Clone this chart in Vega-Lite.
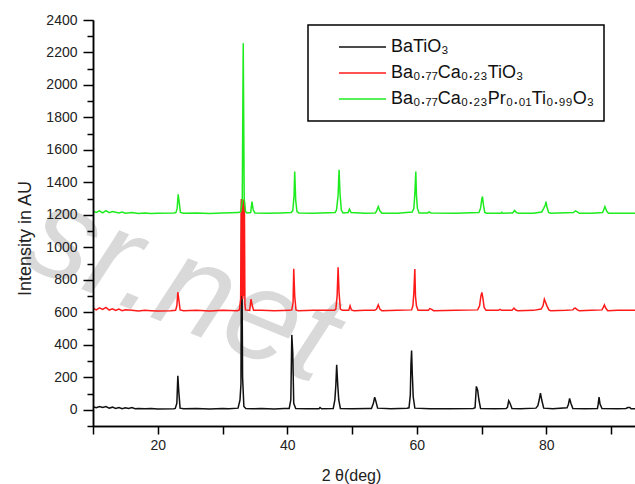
{
  "$schema": "https://vega.github.io/schema/vega-lite/v6.json",
  "width": 542,
  "height": 406,
  "autosize": {"type": "none"},
  "padding": {"left": 93, "top": 20, "right": 0, "bottom": 58},
  "background": "white",
  "config": {
    "view": {"stroke": null},
    "font": "Liberation Sans",
    "axis": {
      "grid": false,
      "domainColor": "#000000",
      "domainWidth": 1.5,
      "tickColor": "#000000",
      "tickWidth": 1.5,
      "labelFont": "Liberation Sans",
      "labelFontSize": 14,
      "labelColor": "#222222",
      "titleFont": "Liberation Sans",
      "titleFontSize": 18,
      "titleFontWeight": "normal",
      "titleColor": "#222222"
    },
    "legend": {
      "strokeColor": "#000000",
      "strokeWidth": 1.5
    }
  },
  "resolve": {"axis": {"x": "independent", "y": "independent"}},
  "datasets": {
    "mark_text": [
      {"label": "sr.net", "theta": 23.75, "counts": 751}
    ],
    "batio3": [
      {"theta": 10, "counts": 18}, {"theta": 10.5, "counts": 12}, {"theta": 11, "counts": 20}, {"theta": 11.5, "counts": 14},
      {"theta": 12, "counts": 20}, {"theta": 12.5, "counts": 10}, {"theta": 13, "counts": 16}, {"theta": 13.5, "counts": 8},
      {"theta": 14, "counts": 14}, {"theta": 14.5, "counts": 6}, {"theta": 15, "counts": 12}, {"theta": 15.5, "counts": 8},
      {"theta": 16, "counts": 14}, {"theta": 16.5, "counts": 6}, {"theta": 17, "counts": 8}, {"theta": 18, "counts": 6},
      {"theta": 19, "counts": 8}, {"theta": 20, "counts": 5}, {"theta": 22.5, "counts": 6},
      {"theta": 22.7, "counts": 8}, {"theta": 22.95, "counts": 40}, {"theta": 23.1, "counts": 209}, {"theta": 23.25, "counts": 110}, {"theta": 23.45, "counts": 10},
      {"theta": 24, "counts": 6}, {"theta": 26, "counts": 7}, {"theta": 28, "counts": 5}, {"theta": 30, "counts": 8}, {"theta": 31, "counts": 6},
      {"theta": 32.4, "counts": 10}, {"theta": 32.7, "counts": 60}, {"theta": 32.85, "counts": 160}, {"theta": 32.95, "counts": 1280}, {"theta": 33.1, "counts": 200}, {"theta": 33.3, "counts": 20}, {"theta": 33.6, "counts": 8},
      {"theta": 34.5, "counts": 6}, {"theta": 36, "counts": 8}, {"theta": 38, "counts": 5}, {"theta": 39.5, "counts": 8},
      {"theta": 40.3, "counts": 8}, {"theta": 40.55, "counts": 60}, {"theta": 40.7, "counts": 461}, {"theta": 40.85, "counts": 350}, {"theta": 41.0, "counts": 40}, {"theta": 41.3, "counts": 8},
      {"theta": 43, "counts": 6}, {"theta": 44.9, "counts": 6}, {"theta": 45.06, "counts": 14}, {"theta": 45.3, "counts": 6},
      {"theta": 47.1, "counts": 8}, {"theta": 47.35, "counts": 60}, {"theta": 47.5, "counts": 150}, {"theta": 47.63, "counts": 277}, {"theta": 47.8, "counts": 150}, {"theta": 47.95, "counts": 60}, {"theta": 48.2, "counts": 8},
      {"theta": 50, "counts": 6}, {"theta": 52.5, "counts": 8},
      {"theta": 53.0, "counts": 8}, {"theta": 53.3, "counts": 40}, {"theta": 53.5, "counts": 78}, {"theta": 53.7, "counts": 50}, {"theta": 53.95, "counts": 10},
      {"theta": 56, "counts": 6}, {"theta": 58.5, "counts": 10},
      {"theta": 58.8, "counts": 12}, {"theta": 59.0, "counts": 90}, {"theta": 59.1, "counts": 280}, {"theta": 59.2, "counts": 365}, {"theta": 59.3, "counts": 230}, {"theta": 59.45, "counts": 80}, {"theta": 59.7, "counts": 10},
      {"theta": 62, "counts": 6}, {"theta": 65, "counts": 6}, {"theta": 68.7, "counts": 8},
      {"theta": 69.0, "counts": 12}, {"theta": 69.2, "counts": 144}, {"theta": 69.4, "counts": 120}, {"theta": 69.6, "counts": 60}, {"theta": 69.85, "counts": 8},
      {"theta": 72, "counts": 6}, {"theta": 73.8, "counts": 8},
      {"theta": 74.0, "counts": 15}, {"theta": 74.2, "counts": 55}, {"theta": 74.4, "counts": 40}, {"theta": 74.7, "counts": 8},
      {"theta": 76, "counts": 6}, {"theta": 78.4, "counts": 10},
      {"theta": 78.7, "counts": 25}, {"theta": 78.9, "counts": 60}, {"theta": 79.1, "counts": 102}, {"theta": 79.3, "counts": 60}, {"theta": 79.6, "counts": 10},
      {"theta": 81, "counts": 6}, {"theta": 83.2, "counts": 12},
      {"theta": 83.4, "counts": 30}, {"theta": 83.6, "counts": 70}, {"theta": 83.8, "counts": 40}, {"theta": 84.1, "counts": 8},
      {"theta": 86, "counts": 6}, {"theta": 87.9, "counts": 8},
      {"theta": 88.0, "counts": 30}, {"theta": 88.15, "counts": 78}, {"theta": 88.3, "counts": 35}, {"theta": 88.6, "counts": 8},
      {"theta": 91, "counts": 6}, {"theta": 92.3, "counts": 8}, {"theta": 92.6, "counts": 14}, {"theta": 92.9, "counts": 14}, {"theta": 93.1, "counts": 6}, {"theta": 93.7, "counts": 6}
    ],
    "bcto": [
      {"theta": 10, "counts": 625}, {"theta": 10.5, "counts": 615}, {"theta": 11, "counts": 628}, {"theta": 11.5, "counts": 618},
      {"theta": 12, "counts": 630}, {"theta": 12.5, "counts": 614}, {"theta": 13, "counts": 622}, {"theta": 13.5, "counts": 612},
      {"theta": 14, "counts": 620}, {"theta": 14.5, "counts": 610}, {"theta": 15, "counts": 616}, {"theta": 16, "counts": 612},
      {"theta": 17, "counts": 608}, {"theta": 18, "counts": 612}, {"theta": 19, "counts": 610}, {"theta": 20, "counts": 608}, {"theta": 22, "counts": 610},
      {"theta": 22.75, "counts": 612}, {"theta": 22.95, "counts": 640}, {"theta": 23.1, "counts": 724}, {"theta": 23.25, "counts": 680}, {"theta": 23.45, "counts": 615},
      {"theta": 24, "counts": 610}, {"theta": 26, "counts": 612}, {"theta": 28, "counts": 608}, {"theta": 30, "counts": 612}, {"theta": 32.3, "counts": 610},
      {"theta": 32.6, "counts": 615}, {"theta": 32.8, "counts": 680}, {"theta": 32.9, "counts": 1298}, {"theta": 32.98, "counts": 700}, {"theta": 33.06, "counts": 1290},
      {"theta": 33.14, "counts": 680}, {"theta": 33.22, "counts": 1295}, {"theta": 33.3, "counts": 700}, {"theta": 33.38, "counts": 1280}, {"theta": 33.46, "counts": 650}, {"theta": 33.55, "counts": 615},
      {"theta": 34.2, "counts": 612}, {"theta": 34.4, "counts": 681}, {"theta": 34.6, "counts": 640}, {"theta": 34.8, "counts": 612},
      {"theta": 36, "counts": 612}, {"theta": 38, "counts": 610}, {"theta": 40.4, "counts": 612},
      {"theta": 40.7, "counts": 615}, {"theta": 40.9, "counts": 660}, {"theta": 41.0, "counts": 868}, {"theta": 41.15, "counts": 700}, {"theta": 41.35, "counts": 615}, {"theta": 41.7, "counts": 610},
      {"theta": 44, "counts": 612}, {"theta": 47.3, "counts": 612},
      {"theta": 47.5, "counts": 620}, {"theta": 47.7, "counts": 700}, {"theta": 47.85, "counts": 878}, {"theta": 48.0, "counts": 720}, {"theta": 48.2, "counts": 620}, {"theta": 48.5, "counts": 612},
      {"theta": 49.5, "counts": 612}, {"theta": 49.7, "counts": 640}, {"theta": 49.9, "counts": 615}, {"theta": 50.3, "counts": 610},
      {"theta": 52, "counts": 612}, {"theta": 53.5, "counts": 612},
      {"theta": 53.8, "counts": 620}, {"theta": 54.05, "counts": 646}, {"theta": 54.3, "counts": 620}, {"theta": 54.6, "counts": 610},
      {"theta": 57, "counts": 612}, {"theta": 59.2, "counts": 615},
      {"theta": 59.4, "counts": 640}, {"theta": 59.55, "counts": 720}, {"theta": 59.7, "counts": 866}, {"theta": 59.8, "counts": 700}, {"theta": 59.95, "counts": 640}, {"theta": 60.2, "counts": 612},
      {"theta": 61.8, "counts": 612}, {"theta": 62.0, "counts": 623}, {"theta": 62.3, "counts": 618}, {"theta": 62.6, "counts": 610},
      {"theta": 66, "counts": 612}, {"theta": 69.4, "counts": 615},
      {"theta": 69.7, "counts": 640}, {"theta": 69.9, "counts": 700}, {"theta": 70.05, "counts": 722}, {"theta": 70.2, "counts": 690}, {"theta": 70.4, "counts": 630}, {"theta": 70.7, "counts": 612},
      {"theta": 72.6, "counts": 612}, {"theta": 72.86, "counts": 618}, {"theta": 73.1, "counts": 612},
      {"theta": 74.7, "counts": 612}, {"theta": 75.0, "counts": 626}, {"theta": 75.3, "counts": 614}, {"theta": 75.6, "counts": 610},
      {"theta": 78, "counts": 612}, {"theta": 79.2, "counts": 620},
      {"theta": 79.5, "counts": 640}, {"theta": 79.7, "counts": 681}, {"theta": 79.9, "counts": 660}, {"theta": 80.1, "counts": 640}, {"theta": 80.4, "counts": 615}, {"theta": 80.7, "counts": 610},
      {"theta": 83, "counts": 612}, {"theta": 84.1, "counts": 615},
      {"theta": 84.3, "counts": 624}, {"theta": 84.5, "counts": 626}, {"theta": 84.8, "counts": 615}, {"theta": 85.1, "counts": 610},
      {"theta": 87, "counts": 612}, {"theta": 88.6, "counts": 615},
      {"theta": 88.8, "counts": 630}, {"theta": 88.97, "counts": 646}, {"theta": 89.2, "counts": 625}, {"theta": 89.5, "counts": 610},
      {"theta": 91, "counts": 612}, {"theta": 93.7, "counts": 612}
    ],
    "bcpto": [
      {"theta": 10, "counts": 1222}, {"theta": 10.5, "counts": 1215}, {"theta": 11, "counts": 1225}, {"theta": 11.5, "counts": 1212},
      {"theta": 12, "counts": 1226}, {"theta": 12.5, "counts": 1214}, {"theta": 13, "counts": 1220}, {"theta": 14, "counts": 1212},
      {"theta": 14.5, "counts": 1218}, {"theta": 15, "counts": 1210}, {"theta": 16, "counts": 1214}, {"theta": 17, "counts": 1208},
      {"theta": 18, "counts": 1212}, {"theta": 19, "counts": 1208}, {"theta": 20, "counts": 1210}, {"theta": 22.5, "counts": 1212},
      {"theta": 22.8, "counts": 1214}, {"theta": 23.0, "counts": 1240}, {"theta": 23.15, "counts": 1327}, {"theta": 23.3, "counts": 1280}, {"theta": 23.5, "counts": 1215},
      {"theta": 24, "counts": 1210}, {"theta": 26, "counts": 1212}, {"theta": 28, "counts": 1208}, {"theta": 30, "counts": 1212}, {"theta": 32.5, "counts": 1214},
      {"theta": 32.8, "counts": 1220}, {"theta": 33.05, "counts": 1280}, {"theta": 33.2, "counts": 2257}, {"theta": 33.35, "counts": 1300}, {"theta": 33.55, "counts": 1220}, {"theta": 33.8, "counts": 1212},
      {"theta": 34.35, "counts": 1214}, {"theta": 34.55, "counts": 1282}, {"theta": 34.75, "counts": 1230}, {"theta": 35.0, "counts": 1212},
      {"theta": 37, "counts": 1210}, {"theta": 39, "counts": 1212}, {"theta": 40.6, "counts": 1214},
      {"theta": 40.85, "counts": 1225}, {"theta": 41.05, "counts": 1320}, {"theta": 41.15, "counts": 1467}, {"theta": 41.3, "counts": 1290}, {"theta": 41.5, "counts": 1220}, {"theta": 41.8, "counts": 1212},
      {"theta": 44, "counts": 1210}, {"theta": 47.4, "counts": 1215},
      {"theta": 47.6, "counts": 1230}, {"theta": 47.85, "counts": 1320}, {"theta": 48.0, "counts": 1477}, {"theta": 48.15, "counts": 1330}, {"theta": 48.35, "counts": 1230}, {"theta": 48.6, "counts": 1212},
      {"theta": 49.4, "counts": 1214}, {"theta": 49.6, "counts": 1235}, {"theta": 49.85, "counts": 1214},
      {"theta": 52, "counts": 1210}, {"theta": 53.6, "counts": 1212},
      {"theta": 53.8, "counts": 1225}, {"theta": 54.05, "counts": 1251}, {"theta": 54.3, "counts": 1225}, {"theta": 54.6, "counts": 1210},
      {"theta": 57, "counts": 1210}, {"theta": 59.3, "counts": 1218},
      {"theta": 59.55, "counts": 1240}, {"theta": 59.7, "counts": 1330}, {"theta": 59.85, "counts": 1467}, {"theta": 59.95, "counts": 1320}, {"theta": 60.1, "counts": 1240}, {"theta": 60.35, "counts": 1212},
      {"theta": 61.7, "counts": 1212}, {"theta": 61.9, "counts": 1218}, {"theta": 62.2, "counts": 1212},
      {"theta": 66, "counts": 1210}, {"theta": 69.6, "counts": 1215},
      {"theta": 69.85, "counts": 1240}, {"theta": 70.05, "counts": 1300}, {"theta": 70.15, "counts": 1313}, {"theta": 70.3, "counts": 1260}, {"theta": 70.5, "counts": 1215}, {"theta": 70.8, "counts": 1210},
      {"theta": 73.0, "counts": 1210}, {"theta": 73.12, "counts": 1216}, {"theta": 73.3, "counts": 1210},
      {"theta": 74.8, "counts": 1212}, {"theta": 75.1, "counts": 1227}, {"theta": 75.4, "counts": 1214}, {"theta": 75.7, "counts": 1210},
      {"theta": 78, "counts": 1210}, {"theta": 79.3, "counts": 1218},
      {"theta": 79.6, "counts": 1240}, {"theta": 79.85, "counts": 1260}, {"theta": 79.95, "counts": 1282}, {"theta": 80.1, "counts": 1250}, {"theta": 80.35, "counts": 1215}, {"theta": 80.7, "counts": 1210},
      {"theta": 84.2, "counts": 1214}, {"theta": 84.5, "counts": 1225}, {"theta": 84.8, "counts": 1218}, {"theta": 85.1, "counts": 1210},
      {"theta": 87, "counts": 1210}, {"theta": 88.7, "counts": 1214},
      {"theta": 88.9, "counts": 1235}, {"theta": 89.05, "counts": 1251}, {"theta": 89.3, "counts": 1225}, {"theta": 89.6, "counts": 1210},
      {"theta": 91, "counts": 1210}, {"theta": 93.7, "counts": 1210}
    ]
  },
  "layer": [
    {
      "data": {"name": "mark_text"},
      "mark": {"type": "text", "fontSize": 130, "fontStyle": "italic", "font": "Liberation Sans", "color": "#d9d9d9", "angle": 22, "align": "center", "baseline": "middle", "zindex": 0},
      "encoding": {
        "x": {
          "field": "theta", "type": "quantitative",
          "scale": {"domain": [10, 93.7], "nice": false, "zero": false},
          "axis": {
            "orient": "bottom",
            "zindex": 1,
            "values": [10, 30, 50, 70, 90],
            "labels": false,
            "tickSize": 8,
            "title": null
          }
        },
        "y": {
          "field": "counts", "type": "quantitative",
          "scale": {"domain": [-100, 2400], "nice": false, "zero": false},
          "axis": {
            "orient": "left",
            "zindex": 1,
            "values": [-100, 100, 300, 500, 700, 900, 1100, 1300, 1500, 1700, 1900, 2100, 2300],
            "labels": false,
            "tickSize": 6,
            "title": null
          }
        },
        "text": {"field": "label", "type": "nominal"}
      }
    },
    {
      "data": {"name": "batio3"},
      "mark": {"type": "line", "strokeWidth": 1.5, "clip": true},
      "encoding": {
        "x": {
          "field": "theta", "type": "quantitative",
          "axis": {
            "orient": "bottom",
            "zindex": 1,
            "values": [20, 40, 60, 80],
            "tickSize": 8,
            "labelPadding": 4,
            "title": "2 θ(deg)",
            "titleFontSize": 16,
            "titleX": 258,
            "titleY": 49,
            "titleBaseline": "middle"
          }
        },
        "y": {
          "field": "counts", "type": "quantitative",
          "axis": {
            "orient": "left",
            "zindex": 1,
            "values": [0, 200, 400, 600, 800, 1000, 1200, 1400, 1600, 1800, 2000, 2200, 2400],
            "format": "d",
            "labelOverlap": false,
            "tickSize": 10,
            "labelPadding": 6,
            "title": "Intensity in AU",
            "titleX": -68,
            "titleY": 218,
            "titleAngle": -90,
            "titleAlign": "center",
            "titleBaseline": "middle"
          }
        },
        "color": {
          "datum": "BaTiO₃",
          "type": "nominal",
          "scale": {
            "domain": ["BaTiO₃", "Ba₀.₇₇Ca₀.₂₃TiO₃", "Ba₀.₇₇Ca₀.₂₃Pr₀.₀₁Ti₀.₉₉O₃"],
            "range": ["#111111", "#ff1a1a", "#1eec1e"]
          },
          "legend": {
            "title": null,
            "orient": "none",
            "legendX": 215,
            "legendY": 5,
            "padding": 9,
            "fillColor": "white",
            "symbolType": "stroke",
            "symbolSize": 2209,
            "symbolStrokeWidth": 1.6,
            "symbolOffset": 21,
            "labelOffset": 4,
            "clipHeight": 26,
            "rowPadding": 0,
            "labelFont": "Liberation Sans",
            "labelFontSize": 18,
            "labelColor": "#111111",
            "labelLimit": 400
          }
        }
      }
    },
    {
      "data": {"name": "bcto"},
      "mark": {"type": "line", "strokeWidth": 1.5, "clip": true},
      "encoding": {
        "x": {"field": "theta", "type": "quantitative", "axis": null},
        "y": {"field": "counts", "type": "quantitative", "axis": null},
        "color": {"datum": "Ba₀.₇₇Ca₀.₂₃TiO₃", "type": "nominal"}
      }
    },
    {
      "data": {"name": "bcpto"},
      "mark": {"type": "line", "strokeWidth": 1.5, "clip": true},
      "encoding": {
        "x": {"field": "theta", "type": "quantitative", "axis": null},
        "y": {"field": "counts", "type": "quantitative", "axis": null},
        "color": {"datum": "Ba₀.₇₇Ca₀.₂₃Pr₀.₀₁Ti₀.₉₉O₃", "type": "nominal"}
      }
    },
    {
      "mark": {"type": "rule", "color": "#000000", "strokeWidth": 1.5},
      "encoding": {"y": {"datum": 2400, "type": "quantitative", "axis": null}}
    }
  ]
}
